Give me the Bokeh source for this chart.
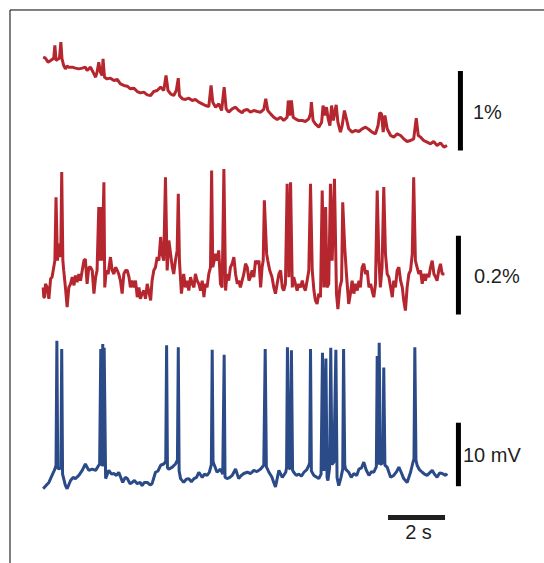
from bokeh.plotting import figure
from bokeh.models import Range1d
from bokeh.core.properties import value
from bokeh.embed import file_html
from bokeh.resources import INLINE

# ---- top trace: dF/F (%) vs time (s) ----
top_t = [0.00, 0.08, 0.17, 0.26, 0.31, 0.37, 0.41, 0.45, 0.53, 0.57, 0.62, 0.66, 0.72, 0.78, 0.84,
         0.90, 1.02, 1.13, 1.25, 1.37, 1.48, 1.54, 1.60, 1.66, 1.72, 1.78, 1.84, 1.89, 1.95, 2.01,
         2.07, 2.10, 2.15, 2.24, 2.36, 2.48, 2.60, 2.71, 2.83, 2.95, 3.06, 3.18, 3.30, 3.41, 3.53,
         3.65, 3.77, 3.88, 4.00, 4.12, 4.23, 4.31, 4.38, 4.47, 4.58, 4.67, 4.74, 4.78, 4.88, 4.99,
         5.11, 5.23, 5.34, 5.46, 5.58, 5.69, 5.81, 5.89, 5.95, 6.05, 6.16, 6.26, 6.35, 6.42, 6.51,
         6.63, 6.75, 6.86, 6.98, 7.04, 7.16, 7.27, 7.39, 7.51, 7.63, 7.74, 7.81, 7.88, 7.98, 8.09,
         8.21, 8.33, 8.44, 8.56, 8.60, 8.65, 8.71, 8.77, 8.85, 8.97, 9.09, 9.20, 9.32, 9.38, 9.41,
         9.47, 9.55, 9.67, 9.77, 9.82, 9.88, 9.94, 10.00, 10.06, 10.12, 10.18, 10.28, 10.34, 10.43, 10.49,
         10.57, 10.64, 10.72, 10.84, 10.96, 11.08, 11.19, 11.31, 11.43, 11.54, 11.66, 11.75, 11.81, 11.87, 11.93,
         11.99, 12.07, 12.19, 12.30, 12.42, 12.54, 12.65, 12.77, 12.89, 13.00, 13.09, 13.16, 13.24, 13.35, 13.47,
         13.59, 13.70, 13.82, 13.94, 14.06, 14.17]
top_f = [1.174, 1.161, 1.111, 1.132, 1.145, 1.161, 1.321, 1.132, 1.153, 1.161, 1.363, 1.153, 1.069, 1.027, 1.061,
         1.048, 1.048, 1.036, 1.027, 1.036, 1.048, 1.006, 1.027, 1.048, 1.006, 0.964, 0.922, 0.985, 1.111, 0.985,
         0.943, 1.153, 0.922, 0.901, 0.910, 0.881, 0.893, 0.839, 0.818, 0.809, 0.776, 0.784, 0.742, 0.725, 0.734,
         0.700, 0.692, 0.742, 0.755, 0.797, 0.755, 0.943, 0.755, 0.713, 0.692, 0.755, 0.910, 0.692, 0.650, 0.642,
         0.658, 0.629, 0.642, 0.608, 0.587, 0.566, 0.553, 0.818, 0.608, 0.545, 0.587, 0.503, 0.797, 0.524, 0.482,
         0.524, 0.545, 0.503, 0.474, 0.503, 0.516, 0.482, 0.503, 0.491, 0.482, 0.516, 0.650, 0.503, 0.461, 0.419,
         0.390, 0.419, 0.377, 0.419, 0.629, 0.440, 0.629, 0.419, 0.398, 0.377, 0.377, 0.365, 0.398, 0.461, 0.608,
         0.377, 0.335, 0.294, 0.356, 0.566, 0.440, 0.545, 0.398, 0.314, 0.566, 0.377, 0.574, 0.356, 0.231, 0.314,
         0.503, 0.398, 0.273, 0.231, 0.252, 0.239, 0.273, 0.294, 0.264, 0.231, 0.210, 0.314, 0.474, 0.461, 0.231,
         0.440, 0.273, 0.189, 0.168, 0.210, 0.189, 0.147, 0.113, 0.126, 0.147, 0.407, 0.189, 0.168, 0.126, 0.105,
         0.084, 0.113, 0.063, 0.096, 0.042, 0.063]

# ---- middle trace: dF/F (%) vs time (s) ----
mid_t = [0.00, 0.02, 0.05, 0.08, 0.14, 0.20, 0.26, 0.31, 0.37, 0.41, 0.45, 0.50, 0.55, 0.58, 0.62,
         0.65, 0.69, 0.72, 0.78, 0.84, 0.90, 0.96, 1.02, 1.08, 1.13, 1.19, 1.25, 1.31, 1.37, 1.43,
         1.48, 1.54, 1.60, 1.66, 1.72, 1.78, 1.84, 1.89, 1.95, 1.99, 2.03, 2.07, 2.13, 2.16, 2.21,
         2.28, 2.36, 2.42, 2.48, 2.54, 2.60, 2.65, 2.71, 2.77, 2.83, 2.89, 2.95, 3.01, 3.06, 3.12,
         3.18, 3.24, 3.30, 3.36, 3.41, 3.47, 3.53, 3.59, 3.65, 3.71, 3.77, 3.82, 3.88, 3.94, 4.00,
         4.06, 4.12, 4.17, 4.23, 4.29, 4.35, 4.41, 4.47, 4.53, 4.58, 4.64, 4.70, 4.74, 4.78, 4.85,
         4.93, 4.99, 5.05, 5.11, 5.17, 5.23, 5.29, 5.34, 5.40, 5.46, 5.52, 5.58, 5.64, 5.69, 5.75,
         5.81, 5.87, 5.91, 5.95, 6.05, 6.10, 6.16, 6.22, 6.28, 6.34, 6.40, 6.45, 6.51, 6.57, 6.63,
         6.69, 6.75, 6.81, 6.86, 6.92, 6.98, 7.04, 7.10, 7.16, 7.22, 7.27, 7.33, 7.39, 7.45, 7.51,
         7.57, 7.63, 7.68, 7.72, 7.76, 7.84, 7.88, 7.95, 8.03, 8.09, 8.15, 8.21, 8.27, 8.33, 8.39,
         8.44, 8.50, 8.56, 8.62, 8.68, 8.74, 8.79, 8.85, 8.91, 8.97, 9.03, 9.09, 9.15, 9.20, 9.26,
         9.32, 9.38, 9.44, 9.50, 9.55, 9.61, 9.67, 9.73, 9.79, 9.85, 9.91, 9.96, 10.02, 10.08, 10.14,
         10.22, 10.29, 10.34, 10.41, 10.47, 10.51, 10.58, 10.64, 10.72, 10.78, 10.84, 10.90, 10.96, 11.02, 11.08,
         11.13, 11.19, 11.25, 11.31, 11.37, 11.43, 11.49, 11.54, 11.60, 11.66, 11.72, 11.78, 11.83, 11.89, 11.95,
         12.01, 12.07, 12.13, 12.19, 12.25, 12.30, 12.36, 12.42, 12.48, 12.54, 12.60, 12.65, 12.71, 12.77, 12.83,
         12.89, 12.95, 13.00, 13.06, 13.12, 13.18, 13.24, 13.30, 13.35, 13.41, 13.47, 13.53, 13.59, 13.65, 13.71,
         13.77, 13.82, 13.88, 13.94, 14.00, 14.08]
mid_f = [0.008, -0.017, -0.017, 0.017, 0.008, -0.021, 0.030, 0.034, 0.059, 0.076, 0.237, 0.076, 0.119, 0.085, 0.114,
         0.301, 0.076, 0.051, 0.008, -0.042, 0.008, 0.017, 0.034, 0.013, 0.038, 0.021, 0.042, 0.025, 0.051, 0.076,
         0.080, 0.017, 0.059, 0.059, 0.051, -0.008, 0.034, 0.051, 0.212, 0.076, 0.212, 0.076, 0.275, 0.008, 0.051,
         0.042, 0.085, 0.051, 0.042, 0.059, 0.051, 0.042, 0.025, -0.008, 0.042, 0.051, 0.051, 0.034, 0.008, 0.025,
         0.008, 0.025, -0.017, 0.008, -0.021, -0.008, 0.000, -0.021, 0.017, -0.004, -0.025, 0.025, 0.051, 0.059, 0.085,
         0.076, 0.136, 0.093, 0.076, 0.288, 0.051, 0.127, 0.093, 0.059, 0.042, 0.076, 0.102, 0.246, 0.076, -0.008,
         0.042, 0.008, 0.025, 0.000, 0.034, 0.017, 0.008, 0.042, 0.025, 0.017, 0.000, 0.025, -0.017, 0.017, 0.008,
         0.042, 0.059, 0.305, 0.059, 0.093, 0.076, 0.102, 0.017, 0.008, 0.309, 0.000, 0.042, 0.025, 0.059, 0.068,
         0.085, 0.042, 0.017, 0.025, 0.008, 0.025, 0.042, 0.068, 0.059, 0.025, 0.034, 0.051, 0.034, 0.076, 0.068,
         0.076, 0.008, 0.059, 0.076, 0.229, 0.093, 0.076, 0.051, 0.034, 0.008, -0.008, 0.017, 0.042, 0.051, 0.008,
         0.000, 0.017, 0.271, 0.034, 0.275, 0.008, 0.034, 0.017, 0.000, 0.017, 0.008, 0.025, 0.008, 0.000, 0.025,
         0.051, 0.271, 0.051, 0.000, -0.025, -0.034, -0.008, -0.017, 0.254, 0.008, 0.212, 0.008, 0.017, 0.271, 0.076,
         0.284, -0.008, -0.047, 0.008, 0.025, 0.224, 0.110, 0.042, -0.034, -0.008, 0.025, -0.008, 0.017, 0.000, 0.025,
         0.008, 0.059, 0.068, 0.042, 0.051, 0.008, 0.017, 0.000, -0.017, 0.017, 0.254, 0.076, 0.008, 0.059, 0.263,
         0.093, 0.042, 0.034, 0.008, -0.017, 0.025, 0.008, 0.051, 0.059, 0.025, 0.008, -0.025, -0.051, 0.008, 0.042,
         0.051, 0.093, 0.288, 0.076, 0.059, 0.042, 0.051, 0.017, 0.042, 0.025, 0.042, 0.034, 0.059, 0.076, 0.042,
         0.034, 0.025, 0.051, 0.068, 0.042, 0.042]

# ---- bottom trace: membrane potential (mV) vs time (s) ----
vm_t = [0.00, 0.10, 0.20, 0.31, 0.41, 0.45, 0.48, 0.51, 0.55, 0.62, 0.65, 0.68, 0.78, 0.84, 0.96,
        1.05, 1.13, 1.25, 1.37, 1.48, 1.60, 1.72, 1.84, 1.95, 1.98, 2.02, 2.05, 2.07, 2.09, 2.11,
        2.14, 2.19, 2.30, 2.40, 2.48, 2.57, 2.65, 2.79, 2.88, 2.95, 3.05, 3.12, 3.20, 3.30, 3.40,
        3.47, 3.55, 3.65, 3.75, 3.82, 3.94, 4.03, 4.12, 4.23, 4.30, 4.33, 4.36, 4.41, 4.53, 4.64,
        4.71, 4.74, 4.77, 4.82, 4.93, 5.02, 5.11, 5.20, 5.29, 5.38, 5.46, 5.58, 5.66, 5.75, 5.83,
        5.90, 5.93, 5.96, 5.99, 6.10, 6.22, 6.30, 6.35, 6.38, 6.45, 6.55, 6.63, 6.75, 6.86, 6.95,
        7.04, 7.16, 7.28, 7.39, 7.50, 7.63, 7.74, 7.79, 7.83, 7.92, 8.02, 8.09, 8.15, 8.27, 8.39,
        8.51, 8.54, 8.57, 8.62, 8.67, 8.71, 8.75, 8.79, 8.88, 8.97, 9.06, 9.15, 9.25, 9.32, 9.35,
        9.38, 9.41, 9.50, 9.60, 9.67, 9.75, 9.80, 9.85, 9.92, 9.96, 9.99, 10.05, 10.09, 10.13, 10.20,
        10.27, 10.31, 10.37, 10.45, 10.51, 10.54, 10.58, 10.61, 10.72, 10.81, 10.90, 11.00, 11.08, 11.17, 11.25,
        11.33, 11.43, 11.52, 11.60, 11.69, 11.72, 11.76, 11.79, 11.83, 11.87, 11.92, 11.95, 11.99, 12.07, 12.19,
        12.30, 12.40, 12.48, 12.56, 12.65, 12.77, 12.89, 12.97, 13.01, 13.04, 13.08, 13.12, 13.20, 13.30, 13.38,
        13.47, 13.56, 13.65, 13.73, 13.82, 13.91, 14.00, 14.12, 14.17]
vm_v = [-61.3, -60.8, -60.3, -59.2, -58.2, -57.6, -38.0, -58.0, -58.2, -58.0, -39.3, -59.0, -60.8, -61.3, -60.0,
        -59.5, -59.7, -59.2, -58.4, -57.4, -58.4, -58.2, -58.4, -57.6, -57.4, -39.3, -57.5, -57.6, -38.5, -57.8,
        -39.1, -59.7, -58.4, -59.0, -58.9, -59.2, -58.7, -60.3, -59.5, -59.7, -60.5, -60.3, -60.0, -60.5, -60.3,
        -60.8, -60.3, -60.3, -60.7, -60.5, -58.7, -58.5, -57.6, -57.4, -57.0, -38.7, -58.0, -58.2, -57.9, -57.4,
        -56.8, -39.0, -58.5, -59.7, -60.3, -59.8, -59.7, -60.2, -59.7, -59.5, -58.7, -59.5, -59.0, -59.2, -58.7,
        -57.5, -39.4, -57.0, -57.4, -58.7, -58.2, -59.0, -40.2, -59.5, -59.7, -59.5, -59.2, -58.2, -59.7, -59.2,
        -58.9, -58.7, -58.9, -58.4, -58.6, -58.2, -57.6, -39.3, -57.8, -58.7, -59.4, -60.3, -61.0, -58.4, -59.5,
        -58.7, -58.0, -39.0, -58.0, -58.2, -39.5, -58.4, -58.7, -59.2, -59.0, -59.3, -58.7, -58.3, -57.6, -57.2,
        -39.3, -58.5, -59.2, -59.5, -59.7, -59.0, -39.9, -58.5, -40.8, -59.5, -60.0, -58.0, -39.1, -57.5, -57.1,
        -39.4, -59.5, -60.8, -59.5, -58.2, -39.3, -57.5, -58.2, -58.7, -59.5, -58.9, -59.2, -58.2, -58.0, -57.1,
        -58.3, -59.2, -58.6, -58.7, -57.8, -40.4, -57.5, -38.3, -57.4, -57.4, -57.0, -42.2, -57.6, -57.9, -59.5,
        -59.2, -58.6, -57.9, -58.7, -59.7, -60.3, -58.7, -57.2, -56.6, -39.0, -56.8, -57.6, -58.3, -58.7, -59.0,
        -59.2, -58.8, -58.4, -59.0, -59.5, -58.8, -58.9, -59.2, -58.9]

# ---- scale bars (sizes in data units) and their labels ----
bar_top_pct = 1.0
bar_mid_pct = 0.2
bar_vm_mv = 10.0
bar_time_s = 2.0
bar_labels = ["1%", "0.2%", "10 mV", "2 s"]

RED = "#b5262f"
BLUE = "#2b4a88"
INK = "#1f1f1f"
FONT = value("Liberation Sans")

# ranges chosen so that 1 s = 28.5 px, 1 % = 79.5 px (top), 1 % = 393.5 px (middle), 1 mV = 6.35 px
W, H = 544, 563
X0, X1 = -1.4982, 17.590
YT0, YT1 = -5.195, 1.8868
p = figure(width=W, height=H, output_backend="svg", toolbar_location=None,
           x_range=Range1d(X0, X1), y_range=Range1d(YT0, YT1),
           x_axis_location=None, y_axis_location=None, min_border=0)
p.extra_y_ranges = {"mid": Range1d(-0.6937, 0.73698), "vm": Range1d(-73.07, 15.591)}
p.outline_line_color = None
p.grid.visible = False
p.background_fill_color = "white"
p.border_fill_color = "white"

# frame: left and top edges meeting at the top-left corner
frame_x = X0 + 9.5 / 28.5
frame_y = YT1 - 9.5 / 79.5
p.line([frame_x, frame_x, X1], [YT0, frame_y, frame_y], line_color="black", line_width=1,
       line_join="miter", line_cap="square")

p.line(top_t, top_f, line_color=RED, line_width=3)
p.line(mid_t, mid_f, line_color=RED, line_width=3, y_range_name="mid")
p.line(vm_t, vm_v, line_color=BLUE, line_width=3, y_range_name="vm")

# scale bars
p.line([14.64, 14.64], [0.0, bar_top_pct], line_color="black", line_width=5, line_cap="butt")
p.line([14.57, 14.57], [-0.061, -0.061 + bar_mid_pct], line_color="black", line_width=5,
       line_cap="butt", y_range_name="mid")
p.line([14.57, 14.57], [-60.9, -60.9 + bar_vm_mv], line_color="black", line_width=5,
       line_cap="butt", y_range_name="vm")
p.line([14.10 - bar_time_s, 14.10], [-65.83, -65.83], line_color=INK, line_width=5,
       line_cap="butt", y_range_name="vm")

common = dict(text_font=FONT, text_font_size="20px", text_color=INK, text_baseline="middle")
p.text([15.08], [0.49], text=[bar_labels[0]], text_align="left", **common)
p.text([15.12], [0.036], text=[bar_labels[1]], text_align="left", y_range_name="mid", **common)
p.text([14.73], [-56.06], text=[bar_labels[2]], text_align="left", y_range_name="vm", **common)
p.text([13.17], [-68.14], text=[bar_labels[3]], text_align="center", y_range_name="vm", **common)

open("out.html", "w").write(file_html(p, INLINE))
